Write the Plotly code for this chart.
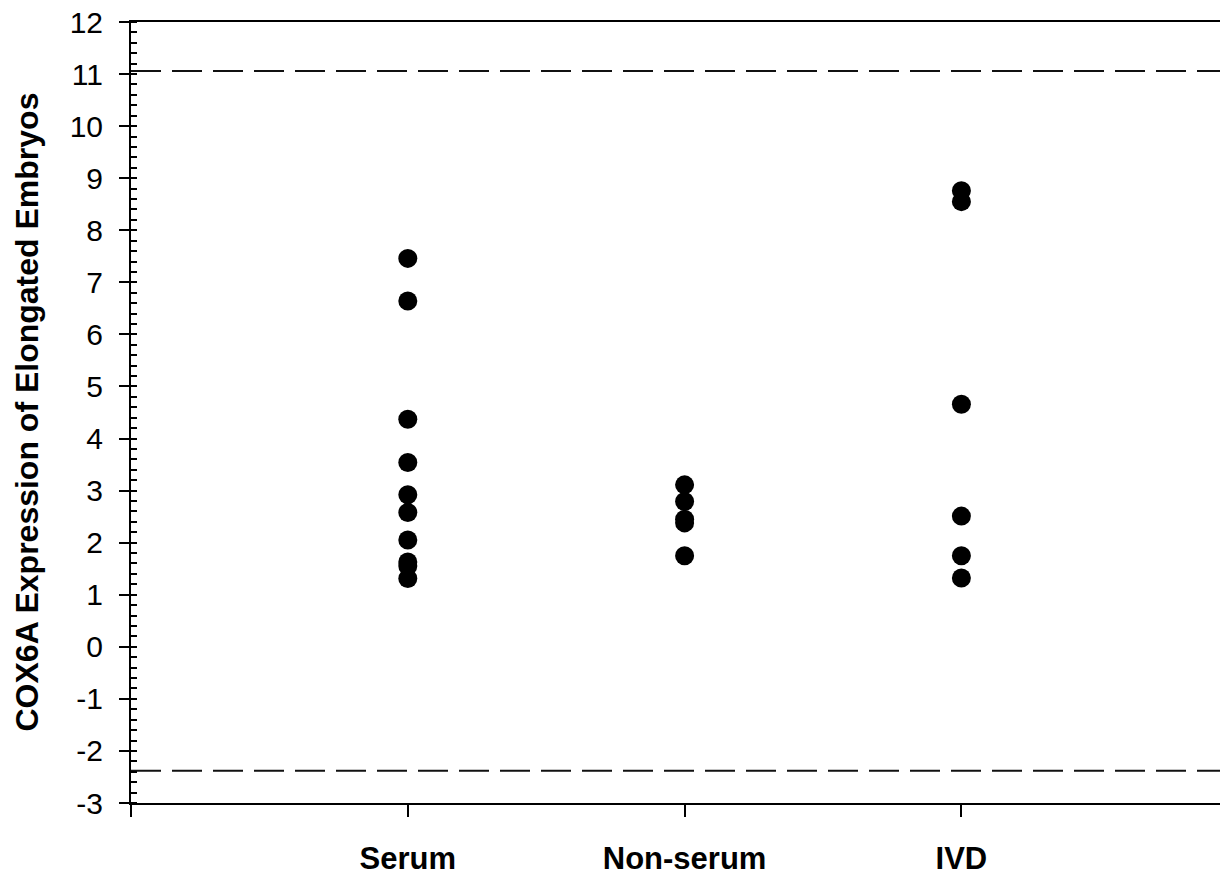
import plotly.graph_objects as go

categories = ["Serum", "Non-serum", "IVD"]
cat_pos = [1, 2, 3]
serum = [7.46, 6.64, 4.37, 3.54, 2.92, 2.58, 2.05, 1.63, 1.55, 1.31]
nonserum = [3.11, 2.79, 2.45, 2.38, 1.75]
ivd = [8.76, 8.55, 4.66, 2.51, 1.75, 1.32]
upper_limit = 11.06
lower_limit = -2.38
y_ticks = list(range(-3, 13))
y_title = "COX6A Expression of Elongated Embryos"

FONT = "Arial, 'Liberation Sans', sans-serif"

# page body adds an 8px offset; figure sized to fill the rest of the window
W, H = 1220, 870
L, T, B = 123, 14, 75
PW = W - L

fig = go.Figure()
for pos, vals in zip(cat_pos, [serum, nonserum, ivd]):
    fig.add_trace(go.Scatter(
        x=[pos] * len(vals), y=vals, mode="markers",
        marker=dict(color="black", size=19, line=dict(width=0)),
        showlegend=False, hoverinfo="y"))

for lim in [upper_limit, lower_limit]:
    fig.add_shape(type="line", xref="paper", x0=0, x1=1, yref="y", y0=lim, y1=lim,
                  line=dict(color="#111", width=2, dash="30px,11px"), layer="below")

fig.add_annotation(text="<b>" + y_title + "</b>", textangle=-90, xref="paper", yref="paper",
                   x=(18 - L) / PW, y=0.5, xanchor="center", yanchor="middle",
                   showarrow=False, font=dict(family=FONT, size=32, color="black"))

fig.update_layout(
    width=W, height=H,
    margin=dict(l=L, r=0, t=T, b=B),
    paper_bgcolor="white", plot_bgcolor="white",
    font=dict(family=FONT, color="black"),
    xaxis=dict(range=[0, PW / 276.8], tickvals=[0] + cat_pos,
               ticktext=[""] + ["<b>" + c + "</b>" for c in categories],
               ticks="outside", ticklen=12, tickwidth=2, tickcolor="black",
               showline=True, linecolor="black", linewidth=2, mirror=True,
               showgrid=False, zeroline=False, ticklabelstandoff=15,
               automargin=False, ticklabeloverflow="allow",
               tickfont=dict(family=FONT, size=31, color="black")),
    yaxis=dict(range=[-3, 12], tickvals=y_ticks,
               ticktext=[str(v) for v in y_ticks],
               ticks="outside", ticklen=10, tickwidth=2, tickcolor="black",
               showline=True, linecolor="black", linewidth=2,
               showgrid=False, zeroline=False, ticklabelstandoff=10,
               automargin=False, ticklabeloverflow="allow",
               tickfont=dict(family=FONT, size=30, color="black"),
               minor=dict(dtick=0.2, ticks="inside", ticklen=6, tickwidth=2,
                          tickcolor="black", showgrid=False)),
)

fig.write_html("out.html")
